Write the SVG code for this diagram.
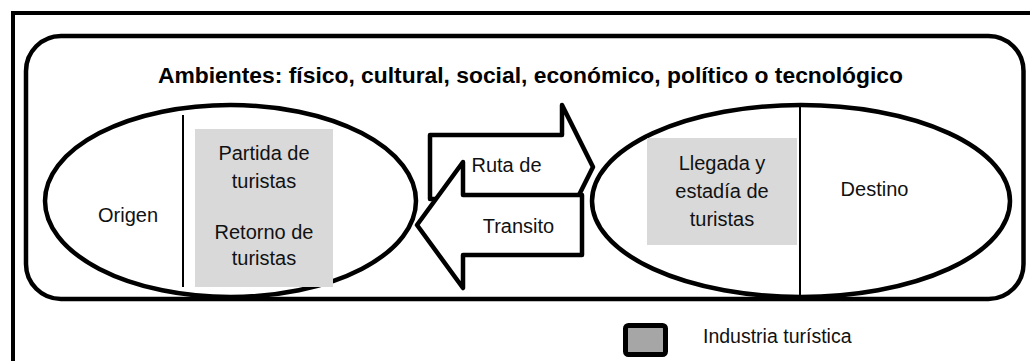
<svg xmlns="http://www.w3.org/2000/svg" width="1030" height="361" viewBox="0 0 1030 361">
<style>
.ln{fill:none;stroke:#000;stroke-width:4.5;stroke-linejoin:round}
.sh{fill:#fff;stroke:#000;stroke-width:4.5;stroke-linejoin:round}
.thin{stroke:#000;stroke-width:2}
.ind{fill:#d9d9d9}
.t{font-family:"Liberation Sans",Arial,sans-serif;font-size:20px;fill:#111;text-anchor:middle}
.tb{font-family:"Liberation Sans",Arial,sans-serif;font-size:22px;font-weight:bold;fill:#000;text-anchor:middle}
</style>
<rect x="0" y="0" width="1030" height="361" fill="#fff"/>
<rect id="frame" x="13" y="13" width="1040" height="400" fill="none" stroke="#000" stroke-width="4"/>
<g id="ambientes">
<rect x="26" y="36" width="997.5" height="263" rx="35" class="ln"/>
<text class="tb" x="530.5" y="83" textLength="745" lengthAdjust="spacingAndGlyphs">Ambientes: físico, cultural, social, económico, político o tecnológico</text>
</g>
<g id="origen">
<ellipse cx="230.5" cy="201" rx="185.5" ry="96" class="sh"/>
<line x1="183" y1="115" x2="183" y2="287" class="thin"/>
<rect x="195" y="129" width="138" height="158" class="ind"/>
<text class="t" x="128" y="222">Origen</text>
<text class="t" x="264" y="160">Partida de</text>
<text class="t" x="264" y="188">turistas</text>
<text class="t" x="264" y="239">Retorno de</text>
<text class="t" x="264" y="265">turistas</text>
</g>
<g id="destino">
<ellipse cx="801" cy="201" rx="209" ry="96" class="sh"/>
<rect x="647" y="138" width="150" height="107" class="ind"/>
<line x1="800" y1="105" x2="800" y2="297" class="thin"/>
<text class="t" x="722" y="170">Llegada y</text>
<text class="t" x="722" y="198">estadía de</text>
<text class="t" x="722" y="226">turistas</text>
<text class="t" x="874.5" y="196">Destino</text>
</g>
<g id="connectors">
<g id="ruta-ida">
<path d="M430,135 L562,135 L562,105 L593,167 L562,229 L562,199 L430,199 Z" class="sh"/>
<text class="t" x="506.5" y="172">Ruta de</text>
</g>
<g id="ruta-retorno">
<path d="M582,195 L463,195 L463,162 L417,225 L463,288 L463,255 L582,255 Z" class="sh"/>
<text class="t" x="518.5" y="233">Transito</text>
</g>
</g>
<g id="leyenda">
<rect x="625.5" y="325.5" width="40" height="29" rx="3" fill="#a6a6a6" stroke="#000" stroke-width="5"/>
<text class="t" x="703" y="343" style="text-anchor:start;font-size:19.5px">Industria turística</text>
</g>
</svg>
